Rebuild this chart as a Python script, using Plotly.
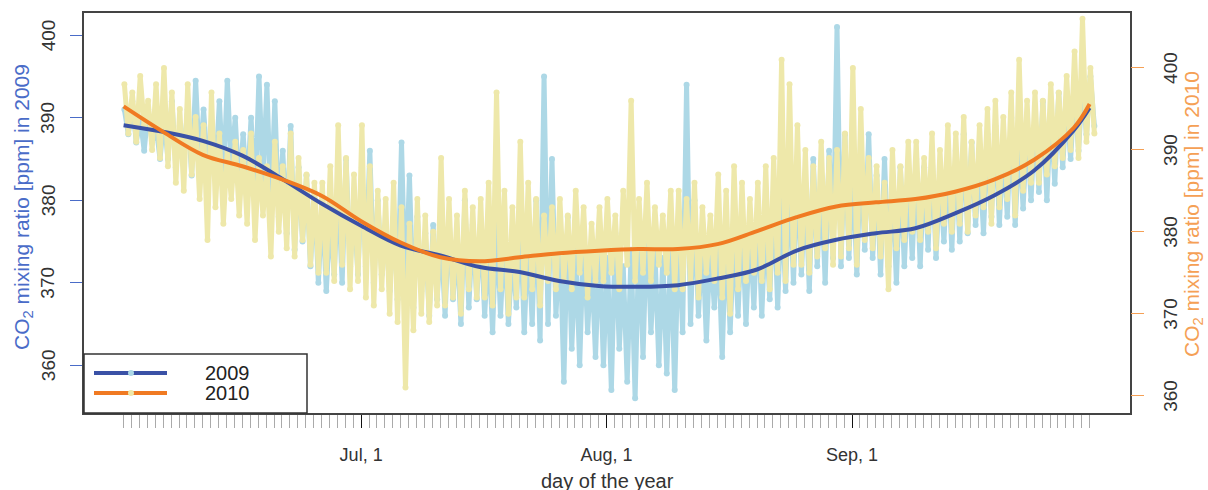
import plotly.graph_objects as go

# ---- data -------------------------------------------------------------
# Daily night-time maxima / afternoon minima of hourly CO2 [ppm], Jun 1 .. Oct 1
first_doy = 152  # Jun 1

co2_2009_high = [391, 392, 390, 391, 389, 390, 392, 389, 391, 394.5,
                 391, 389, 392, 394.5, 390, 388, 390, 395, 394, 392,
                 386, 389, 384, 383, 381, 380, 378, 382, 385, 379,
                 384, 386, 380, 377, 378, 387, 383, 378, 376, 377,
                 376, 378, 375, 380, 377, 377, 375, 378, 376, 374,
                 378, 376, 380, 395, 385, 376, 378, 374, 376, 373,
                 375, 373, 376, 372, 374, 376, 378, 374, 373, 375,
                 377, 394, 380, 376, 375, 375, 377, 376, 378, 377,
                 379, 378, 381, 380, 383, 384, 382, 385, 383, 386,
                 401, 388, 384, 386, 388, 383, 385, 382, 384, 383,
                 385, 384, 386, 383, 385, 386, 388, 387, 385, 388,
                 389, 387, 390, 388, 389, 390, 392, 391, 393, 392,
                 393, 394, 395]
co2_2009_low = [388, 387, 386, 387, 385, 385, 384, 386, 383, 384,
                384, 383, 382, 384, 381, 381, 380, 382, 379, 378,
                376, 374, 375, 372, 370, 369, 371, 370, 372, 371,
                372, 370, 371, 369, 368, 368, 367, 369, 366, 368,
                366, 368, 365, 367, 368, 366, 364, 366, 365, 367,
                364, 365, 363, 365, 366, 358, 362, 360, 364, 361,
                360, 357, 362, 358, 356, 361, 364, 360, 359, 357,
                364, 365, 366, 363, 367, 361, 364, 366, 365, 367,
                366, 368, 367, 369, 370, 371, 369, 372, 370, 373,
                372, 373, 371, 374, 373, 371, 372, 370, 372, 373,
                372, 374, 373, 375, 374, 375, 376, 377, 376, 378,
                377, 378, 377, 379, 380, 381, 380, 382, 384, 385,
                386, 388, 389]

co2_2010_high = [398, 397, 399, 396, 398, 400, 397, 395, 398, 394,
                 393, 397, 392, 390, 391, 390, 392, 389, 388, 391,
                 388, 392, 389, 387, 386, 386, 388, 393, 389, 387,
                 393, 388, 385, 384, 386, 383, 381, 384, 382, 380,
                 389, 384, 382, 385, 383, 384, 386, 397, 385, 383,
                 391, 386, 384, 382, 383, 384, 382, 385, 383, 381,
                 383, 384, 382, 385, 396, 384, 386, 383, 382, 385,
                 385, 384, 386, 383, 382, 387, 385, 388, 386, 384,
                 386, 388, 389, 401, 398, 393, 390, 388, 391, 389,
                 390, 392, 400, 395, 389, 388, 386, 390, 388, 391,
                 391, 389, 392, 390, 393, 392, 394, 391, 393, 395,
                 396, 394, 397, 401, 396, 397, 396, 398, 397, 399,
                 402, 406, 400]
co2_2010_low = [392, 391, 393, 390, 389, 388, 386, 385, 387, 384,
                379, 383, 381, 384, 382, 381, 379, 382, 377, 380,
                378, 377, 379, 376, 375, 375, 374, 376, 373, 374,
                372, 371, 373, 370, 369, 361, 368, 370, 369, 371,
                371, 372, 370, 373, 372, 372, 371, 373, 370, 372,
                372, 373, 371, 374, 373, 374, 373, 375, 372, 374,
                374, 375, 373, 376, 374, 375, 374, 376, 375, 373,
                373, 374, 372, 375, 374, 372, 370, 373, 374, 375,
                374, 373, 375, 374, 376, 376, 375, 377, 378, 376,
                377, 378, 376, 379, 378, 377, 373, 378, 379, 380,
                379, 380, 378, 381, 380, 381, 380, 382, 383, 381,
                383, 384, 382, 385, 386, 386, 387, 388, 389, 390,
                389, 391, 392]

# Smoothed seasonal course
smooth_doy = [152, 157, 162, 167, 172, 177, 182, 187, 192, 197, 202, 207, 212,
              217, 222, 227, 232, 237, 242, 247, 252, 257, 262, 267, 272, 274]
smooth_2009 = [389.1, 388.3, 387.2, 385.4, 382.6, 379.6, 376.9, 374.5, 373.3,
               371.9, 371.3, 370.2, 369.6, 369.5, 369.7, 370.5, 371.6, 373.9,
               375.2, 376.0, 376.6, 378.4, 380.6, 383.6, 388.5, 391.2]
smooth_2010 = [395.3, 392.2, 389.4, 388.0, 386.4, 384.4, 381.3, 378.7, 376.9,
               376.4, 376.9, 377.4, 377.7, 377.9, 377.9, 378.5, 380.1, 381.8,
               383.1, 383.6, 384.0, 384.9, 386.4, 388.8, 392.7, 395.6]

# Axis ticks
major_doy = [166, 182, 196, 213, 227, 244, 258]
major_text = ["", "Jul, 1", "", "Aug, 1", "", "Sep, 1", ""]
minor_doy = list(range(152, 275))
y_ticks = [360, 370, 380, 390, 400]

# ---- colours ----------------------------------------------------------
C_PT09, C_PT10 = "#add8e6", "#eee8aa"
C_LN09, C_LN10 = "#3a51a6", "#f07a22"
C_AX09, C_AX10 = "#4a6cc8", "#f5a055"


def hourly_series(high, low):
    """Interleave night maxima and afternoon minima on a half-day grid."""
    t, v = [], []
    for d, (h, l) in enumerate(zip(high, low)):
        t += [first_doy + d + 0.1, first_doy + d + 0.6]
        v += [h, l]
    return t, v


t09, v09 = hourly_series(co2_2009_high, co2_2009_low)
t10, v10 = hourly_series(co2_2010_high, co2_2010_low)

fig = go.Figure()
fig.add_trace(go.Scatter(x=t09, y=v09, mode="lines+markers", yaxis="y",
                         line=dict(color=C_PT09, width=5),
                         marker=dict(color=C_PT09, size=6), hoverinfo="skip"))
fig.add_trace(go.Scatter(x=t10, y=v10, mode="lines+markers", yaxis="y2",
                         line=dict(color=C_PT10, width=5),
                         marker=dict(color=C_PT10, size=6), hoverinfo="skip"))
fig.add_trace(go.Scatter(x=smooth_doy, y=smooth_2009, mode="lines", yaxis="y3",
                         line=dict(color=C_LN09, width=4, shape="spline")))
fig.add_trace(go.Scatter(x=smooth_doy, y=smooth_2010, mode="lines", yaxis="y4",
                         line=dict(color=C_LN10, width=4, shape="spline")))

FONT = "Liberation Sans, Arial, sans-serif"
range09 = [354.2, 402.7]
range10 = [357.9, 406.7]

fig.update_layout(
    width=1208, height=490,
    margin=dict(l=84, r=78, t=13, b=77, pad=0),
    paper_bgcolor="white", plot_bgcolor="white",
    showlegend=False,
    font=dict(family=FONT, color="#222"),
    xaxis=dict(
        range=[147.0, 279.1], showgrid=False, zeroline=False, automargin=False,
        showline=True, mirror=True, linecolor="#444", linewidth=1.5,
        tickmode="array", tickvals=major_doy, ticktext=major_text,
        ticks="outside", ticklen=13, tickwidth=1, tickcolor="#111",
        tickfont=dict(size=18, color="#333"), ticklabelstandoff=12,
        minor=dict(tickmode="array", tickvals=minor_doy, ticks="outside",
                   ticklen=13, tickwidth=1, tickcolor="#aaaaaa"),
    ),
    yaxis=dict(
        range=range09, showgrid=False, zeroline=False, automargin=False,
        showline=True, mirror=True, linecolor="#444", linewidth=1.5,
        tickmode="array", tickvals=y_ticks, ticks="outside", ticklen=12,
        tickwidth=1, tickcolor=C_AX09, showticklabels=False,
    ),
    yaxis2=dict(
        range=range10, overlaying="y", side="right", showgrid=False,
        zeroline=False, showline=False, automargin=False,
        tickmode="array", tickvals=y_ticks, ticks="outside", ticklen=13,
        tickwidth=1, tickcolor=C_AX10, showticklabels=False,
    ),
    yaxis3=dict(range=range09, overlaying="y", visible=False),
    yaxis4=dict(range=range10, overlaying="y", visible=False),
)

# Pixel helpers for the panel (paper coordinates)
PW, PH = 1208 - 84 - 78, 490 - 13 - 77


def px_x(p):
    return p / PW


def px_y(p):
    return p / PH


annotations = [
    dict(xref="paper", yref="paper", x=px_x(23 - 84), y=px_y(206),
         xanchor="center", yanchor="middle", textangle=-90, showarrow=False,
         text="CO<sub>2</sub> mixing ratio [ppm] in 2009",
         font=dict(size=21, color=C_AX09, family=FONT)),
    dict(xref="paper", yref="paper", x=px_x(1193 - 84), y=px_y(199),
         xanchor="center", yanchor="middle", textangle=-90, showarrow=False,
         text="CO<sub>2</sub> mixing ratio [ppm] in 2010",
         font=dict(size=21, color=C_AX10, family=FONT)),
    dict(xref="paper", yref="paper", x=0.5, y=px_y(413 - 481),
         xanchor="center", yanchor="middle", showarrow=False,
         text="day of the year",
         font=dict(size=20, color="#333", family=FONT)),
]

# Vertical tick labels, placed on each axis' own scale
for axis_ref, x_px in [("y", 48 - 84), ("y2", 1171 - 84)]:
    for v in y_ticks:
        annotations.append(dict(xref="paper", yref=axis_ref, x=px_x(x_px), y=v,
                                xanchor="center", yanchor="middle",
                                textangle=-90, showarrow=False, text=str(v),
                                font=dict(size=19, color="#333", family=FONT)))

# Legend box in the lower-left corner of the panel
shapes = [dict(type="rect", xref="paper", yref="paper",
               x0=0, x1=px_x(223), y0=0, y1=px_y(59),
               fillcolor="white", line=dict(color="#333", width=1.5),
               layer="above")]
for yy, lc, pc, label in [(px_y(40), C_LN09, C_PT09, "2009"),
                          (px_y(20), C_LN10, C_PT10, "2010")]:
    shapes.append(dict(type="line", xref="paper", yref="paper",
                       x0=px_x(10), x1=px_x(83), y0=yy, y1=yy,
                       line=dict(color=lc, width=4), layer="above"))
    shapes.append(dict(type="circle", xref="paper", yref="paper",
                       x0=px_x(44), x1=px_x(50), y0=yy - px_y(3), y1=yy + px_y(3),
                       fillcolor=pc, line=dict(width=0), layer="above"))
    annotations.append(dict(xref="paper", yref="paper", x=px_x(119), y=yy,
                            xanchor="left", yanchor="middle", text=label,
                            showarrow=False,
                            font=dict(size=20, color="#222", family=FONT)))

fig.update_layout(shapes=shapes, annotations=annotations)

fig.write_html("out.html")
